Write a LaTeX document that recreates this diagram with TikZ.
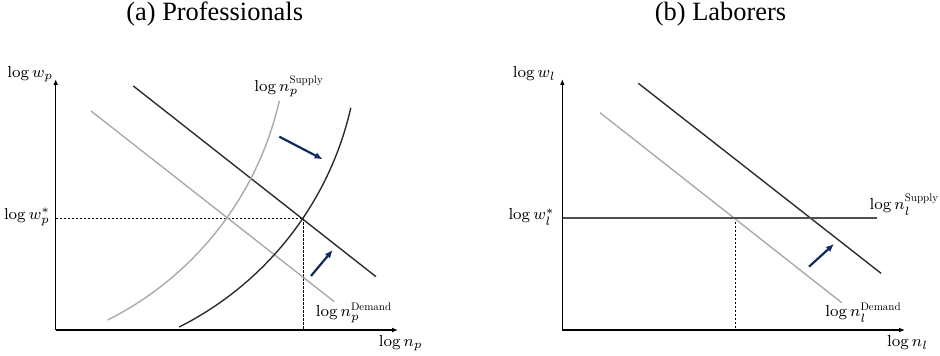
\documentclass[tikz,border=0pt]{standalone}
\usepackage[no-math]{fontspec}
\setmainfont{Liberation Serif}
\newfontfamily\lmten{lmroman10-regular.otf}
\newcommand\supt[1]{\hbox{\lmten\fontsize{5.5}{6}\selectfont #1}}
\usetikzlibrary{arrows.meta}
\definecolor{navy}{RGB}{16,42,94}
\definecolor{darkc}{RGB}{45,45,45}
\definecolor{lightc}{RGB}{170,170,170}
\definecolor{supc}{RGB}{80,80,80}
\begin{document}
\begin{tikzpicture}[x=0.5pt,y=0.5pt,
  axis/.style={line width=0.65pt,-{Latex[length=3pt,width=2.4pt]}},
  darkline/.style={darkc,line width=0.7pt},
  lightline/.style={lightc,line width=0.7pt},
  supline/.style={supc,line width=0.9pt},
  shiftarrow/.style={navy,line width=1.1pt,-{Latex[length=4pt,width=3.4pt]}},
  guide/.style={dash pattern=on 1.1pt off 0.9pt,line width=0.45pt},
  lbl/.style={inner sep=0pt,font=\fontsize{7.9}{9.5}\selectfont},
  ttl/.style={inner sep=0pt,font=\fontsize{13.2}{15}\selectfont}]
\useasboundingbox (0,0) rectangle (940,356);
% ---------- Panel (a)
\node[ttl] (ta) at (214.7,342) {(a) Professionals};
\coordinate (oa) at (55.7,26);
\coordinate (ya) at (55.7,277);
\coordinate (xa) at (398,26);
\coordinate (eqa) at (303.3,138);
\coordinate (eqay) at (55.7,138);
\coordinate (eqax) at (303.3,26);
\draw[guide] (eqay) -- (eqa) -- (eqax);
\draw[lightline] (91,245) -- (334.3,54.3);
\draw[darkline] (133.3,270) -- (376,79.3);
\draw[lightline] (107.7,36) arc[start angle=-63.3,end angle=-12.8,radius=163.2pt];
\draw[darkline] (179.2,29) arc[start angle=-63.3,end angle=-12.8,radius=163.2pt];
\draw[axis] (oa) -- (ya);
\draw[axis] (oa) -- (xa);
\coordinate (a1s) at (279.3,219.3);
\coordinate (a1e) at (322.7,196.7);
\coordinate (a2s) at (311,80);
\coordinate (a2e) at (332.7,106);
\draw[shiftarrow] (a1s) -- (a1e);
\draw[shiftarrow] (a2s) -- (a2e);
\node[lbl,anchor=east] (lwa) at (53.5,282) {$\log w_p$};
\node[lbl,anchor=east] (lwsa) at (50.5,139) {$\log w_p^*$};
\node[lbl,anchor=west] (lsa) at (254,270) {$\log n_p^{\supt{Supply}}$};
\node[lbl,anchor=west] (lda) at (315.5,43) {$\log n_p^{\supt{Demand}}$};
\node[lbl,anchor=east] (lna) at (423,13) {$\log n_p$};
% ---------- Panel (b)
\node[ttl] (tb) at (720.5,342) {(b) Laborers};
\coordinate (ob) at (562.3,26);
\coordinate (yb) at (562.3,277);
\coordinate (xb) at (905,26);
\coordinate (sbl) at (562.3,137.7);
\coordinate (sbr) at (877.3,137.7);
\coordinate (eqb) at (735,137.7);
\coordinate (eqbx) at (735,26);
\draw[guide] (eqb) -- (eqbx);
\draw[lightline] (600,243.3) -- (841.7,53.3);
\draw[darkline] (638.3,272.7) -- (881,82.7);
\draw[supline] (sbl) -- (sbr);
\draw[axis] (ob) -- (yb);
\draw[axis] (ob) -- (xb);
\coordinate (b1s) at (809,89.3);
\coordinate (b1e) at (834,112);
\draw[shiftarrow] (b1s) -- (b1e);
\node[lbl,anchor=east] (lwb) at (556,282) {$\log w_l$};
\node[lbl,anchor=east] (lwsb) at (555,139) {$\log w_l^*$};
\node[lbl,anchor=east] (lsb) at (939.5,151) {$\log n_l^{\supt{Supply}}$};
\node[lbl,anchor=west] (ldb) at (825,43) {$\log n_l^{\supt{Demand}}$};
\node[lbl,anchor=east] (lnb) at (928.5,13) {$\log n_l$};
\end{tikzpicture}
\end{document}
